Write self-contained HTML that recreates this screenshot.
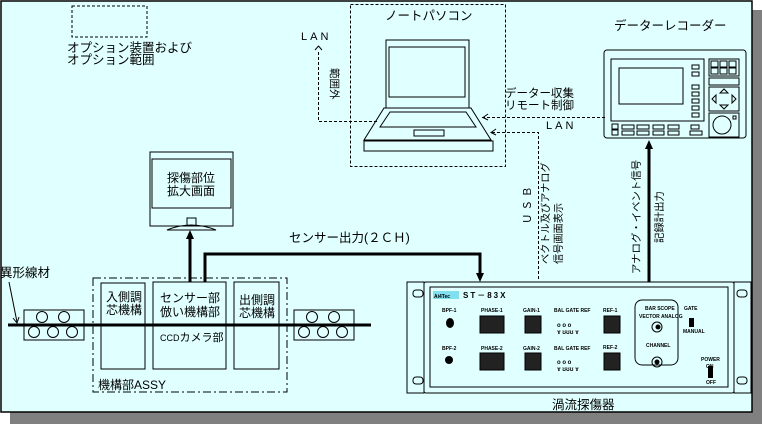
<!DOCTYPE html>
<html><head><meta charset="utf-8"><style>
html,body{margin:0;padding:0;background:#fff}
svg{display:block}
text{font-family:"Liberation Sans","Noto Sans CJK JP",sans-serif;fill:#000}
</style></head><body>
<svg width="762" height="424" viewBox="0 0 762 424" xmlns="http://www.w3.org/2000/svg">
<rect x="10" y="10" width="752" height="414" fill="#808080"/>
<rect x="1" y="1" width="751" height="411" fill="#e0ffff" stroke="#000" stroke-width="1.5"/>

<g fill="none" stroke="#000" stroke-width="1">
<rect x="72" y="6" width="75" height="31" stroke-dasharray="3,2"/>
<rect x="350.5" y="4.5" width="155" height="162" stroke-dasharray="3,2"/>
<polyline points="318.5,52 318.5,121.5 378,121.5" stroke-dasharray="3,2"/>
<polyline points="315,50 318.5,46 322,50"/>
<line x1="482" y1="117.5" x2="605" y2="117.5" stroke-dasharray="3,2"/>
<polyline points="488,114 483,117.5 488,120"/>
<polyline points="492,132.5 538.5,132.5 538.5,280" stroke-dasharray="3,2"/>
<polyline points="496,129 491,132.5 496,135"/>

<rect x="386" y="40" width="83" height="68"/>
<rect x="389" y="47" width="76" height="50"/>
<polygon points="384,108 471,108 491,140 364,140"/>
<polygon points="390,112 466,112 476,127 380,127"/>
<rect x="414" y="130" width="30" height="6"/>
<rect x="364" y="141" width="129" height="10"/>

<rect x="604" y="50" width="142" height="88" rx="3"/>
<rect x="611" y="59" width="93" height="62"/>
<rect x="619" y="68" width="64" height="36"/>
<rect x="692" y="65" width="7" height="4"/><rect x="692" y="72" width="7" height="4"/>
<rect x="692" y="85" width="7" height="4"/><rect x="692" y="92" width="7" height="4"/><rect x="692" y="99" width="7" height="4"/><rect x="692" y="106" width="7" height="4"/><rect x="692" y="113" width="7" height="4"/>
<rect x="709" y="59" width="30" height="17"/>
<rect x="711" y="61" width="7" height="6"/><rect x="720" y="61" width="7" height="6"/><rect x="729" y="61" width="7" height="6"/>
<rect x="711" y="68" width="7" height="6"/><rect x="720" y="68" width="7" height="6"/><rect x="729" y="68" width="7" height="6"/>
<rect x="709" y="78" width="30" height="7"/>
<rect x="709" y="87" width="30" height="24"/>
<polygon points="724,89 728,93 720,93"/><polygon points="724,109 728,105 720,105"/>
<polygon points="712,99 716,95 716,103"/><polygon points="736,99 732,95 732,103"/>
<rect x="709" y="113" width="30" height="24"/>
<circle cx="722" cy="125" r="9"/>
<rect x="733" y="116" width="3" height="3"/>
<rect x="612" y="124" width="6" height="5"/><rect x="612" y="130" width="6" height="5"/>
<rect x="622" y="125" width="12" height="4"/><rect x="622" y="131" width="12" height="4"/>
<rect x="637" y="125" width="12" height="4"/><rect x="637" y="131" width="12" height="4"/>
<rect x="653" y="125" width="11" height="4"/><rect x="653" y="131" width="11" height="4"/>
<rect x="668" y="125" width="11" height="4"/><rect x="668" y="131" width="11" height="4"/>
<rect x="691" y="125" width="8" height="4"/><rect x="690" y="131" width="12" height="4"/>

<rect x="150" y="152" width="83" height="74"/>
<rect x="152" y="159" width="79" height="49"/>
<rect x="187" y="218" width="9" height="8"/>
<path d="M167,230 Q191,220 216,230 Z"/>

<rect x="93" y="278" width="194" height="114" stroke-dasharray="8,3,2,3"/>
<rect x="101" y="283" width="44" height="86"/>
<rect x="153" y="282" width="73" height="87"/>
<rect x="234" y="282" width="45" height="87"/>

<rect x="24" y="310" width="60" height="30"/>
<circle cx="42" cy="317" r="5.5"/><circle cx="64" cy="317" r="5.5"/>
<circle cx="34" cy="332" r="5.5"/><circle cx="53" cy="332" r="5.5"/><circle cx="72" cy="332" r="5.5"/>
<rect x="294" y="310" width="60" height="30"/>
<circle cx="312" cy="317" r="5.5"/><circle cx="334" cy="317" r="5.5"/>
<circle cx="304" cy="332" r="5.5"/><circle cx="323" cy="332" r="5.5"/><circle cx="342" cy="332" r="5.5"/>
<line x1="9" y1="282" x2="17" y2="322"/>
<polyline points="13,318 17,323 19,317"/>

<rect x="407" y="282" width="17" height="111"/>
<rect x="734" y="282" width="17" height="111"/>
<rect x="424" y="282" width="310" height="111" rx="2"/>
<rect x="430" y="287" width="298" height="100"/>
<rect x="413" y="290" width="10" height="7" rx="3"/><rect x="413" y="377" width="10" height="7" rx="3"/>
<rect x="737" y="290" width="10" height="7" rx="3"/><rect x="737" y="377" width="10" height="7" rx="3"/>
<rect x="635" y="300" width="43" height="65" rx="7"/>
</g>

<g>
<rect x="433" y="291" width="26" height="8" fill="#80e0f0"/>
<text x="434" y="298" font-size="5" font-weight="bold">Ai4Tec</text>
<text x="463" y="298" font-size="8" font-weight="bold" letter-spacing="2">ST－83X</text>
<g font-size="5" font-weight="bold">
<text x="442" y="312">BPF-1</text><text x="442" y="350">BPF-2</text>
<text x="481" y="312">PHASE-1</text><text x="481" y="350">PHASE-2</text>
<text x="523" y="312">GAIN-1</text><text x="523" y="350">GAIN-2</text>
<text x="554" y="312">BAL GATE REF</text><text x="554" y="350">BAL GATE REF</text>
<text x="603" y="312">REF-1</text><text x="603" y="349">REF-2</text>
<text x="645" y="310">BAR SCOPE</text><text x="639" y="318">VECTOR  ANALOG</text>
<text x="646" y="347">CHANNEL</text>
<text x="684" y="310">GATE</text><text x="683" y="333">MANUAL</text>
<text x="701" y="361">POWER</text>
</g>
<ellipse cx="450" cy="323" rx="4" ry="5" fill="#000"/>
<ellipse cx="449" cy="360" rx="4" ry="4" fill="#000"/>
<g fill="#222" stroke="#000">
<rect x="480" y="316" width="24" height="17"/><rect x="480" y="353" width="24" height="17"/>
<rect x="525" y="316" width="16" height="17"/><rect x="525" y="353" width="16" height="17"/>
<rect x="604" y="316" width="16" height="17"/><rect x="604" y="353" width="16" height="17"/>
</g>
<g fill="none" stroke="#000">
<circle cx="657" cy="327" r="5"/><circle cx="657" cy="362" r="5"/>
<circle cx="658" cy="327" r="2" fill="#000"/><circle cx="657" cy="362" r="2" fill="#000"/>
</g>
<text x="557" y="327" font-size="6" font-weight="bold">o  o  o</text>
<text x="557" y="334" font-size="6" font-weight="bold">ɤ ʊʊʊ ɤ</text>
<text x="557" y="364" font-size="6" font-weight="bold">o  o  o</text>
<text x="557" y="371" font-size="6" font-weight="bold">ɤ ʊʊʊ ɤ</text>
<rect x="689" y="318" width="5" height="9" fill="#000"/>
<rect x="708" y="366" width="5" height="12" fill="#000"/>
<text x="706" y="368" font-size="5" font-weight="bold">ON</text>
<text x="706" y="384" font-size="5" font-weight="bold">OFF</text>
</g>

<g stroke="#000" stroke-width="3" fill="none">
<line x1="8" y1="325" x2="371" y2="325"/>
<line x1="190" y1="282" x2="190" y2="236"/>
<polyline points="205,282 205,254 480,254 480,276"/>
<line x1="649" y1="282" x2="649" y2="146"/>
</g>
<polygon points="190,230 186,239 194,239" fill="#000"/>
<polygon points="480,282 476,273 484,273" fill="#000"/>
<polygon points="649,140 645,149 653,149" fill="#000"/>

<g font-size="12.5">
<text x="67" y="52">オプション装置および</text>
<text x="67" y="64">オプション範囲</text>
<text x="301" y="40" font-size="11" letter-spacing="3">LAN</text>
<text x="385" y="20">ノートパソコン</text>
<text x="614" y="30">データーレコーダー</text>
<text x="505" y="97" font-size="11.5">データー収集</text>
<text x="505" y="109" font-size="11.5">リモート制御</text>
<text x="546" y="129" font-size="11" letter-spacing="3">LAN</text>
<text x="167" y="182" font-size="12">探傷部位</text>
<text x="167" y="195" font-size="12">拡大画面</text>
<text x="289" y="242">センサー出力(２ＣＨ)</text>
<text x="0" y="277">異形線材</text>
<text x="106" y="301" font-size="12">入側調</text>
<text x="106" y="314" font-size="12">芯機構</text>
<text x="160" y="302" font-size="12">センサー部</text>
<text x="160" y="316" font-size="12">倣い機構部</text>
<text x="160" y="341" font-size="11"><tspan font-size="9">CCD</tspan>カメラ部</text>
<text x="239" y="304" font-size="12">出側調</text>
<text x="239" y="317" font-size="12">芯機構</text>
<text x="98" y="389" font-size="12">機構部ASSY</text>
<text x="552" y="409">渦流探傷器</text>
<text transform="translate(331,68) rotate(90)" font-size="10.5">範囲外</text>
<text transform="translate(531,224) rotate(-90)" font-size="10.5" letter-spacing="3">ＵＳＢ</text>
<text transform="translate(549,264) rotate(-90)" font-size="10.2">ベクトル及びアナログ</text>
<text transform="translate(562,264) rotate(-90)" font-size="10.2">信号画面表示</text>
<text transform="translate(640,274) rotate(-90)" font-size="10.4">アナログ・イベント信号</text>
<text transform="translate(663,243) rotate(-90)" font-size="10.4">記録計出力</text>
</g>
</svg>
</body></html>
